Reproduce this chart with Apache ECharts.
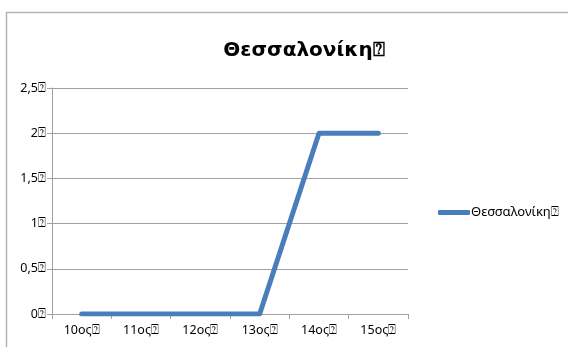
<!DOCTYPE html>
<html><head><meta charset="utf-8">
<script src="https://cdn.jsdelivr.net/npm/echarts@6/dist/echarts.min.js"></script>
<style>html,body{margin:0;padding:0;background:#fff}#c{width:568px;height:347px}</style>
</head><body><div id="c"></div>
<script>
const TITLE = 'Θεσσαλονίκη\u2370';
const SERIES_NAME = 'Θεσσαλονίκη\u2370';
const categories = ['10ος\u2370','11ος\u2370','12ος\u2370','13ος\u2370','14ος\u2370','15ος\u2370'];
const values = [0, 0, 0, 0, 2, 2];
const yTicks = ['0\u2370','0,5\u2370','1\u2370','1,5\u2370','2\u2370','2,5\u2370'];

const FONT = '"Noto Sans", "DejaVu Sans", sans-serif';
const chart = echarts.init(document.getElementById('c'), null, {renderer:'canvas'});
chart.setOption({
  animation:false,
  backgroundColor:'#fff',
  graphic:[{type:'rect', shape:{x:6.5,y:12.5,width:700,height:500}, style:{fill:'none', stroke:'#b4b4b4', lineWidth:1.5}, silent:true, z:-1}],
  title:{text:TITLE, left:299, top:36, textAlign:'center',
    textStyle:{fontFamily:'"DejaVu Sans", sans-serif', fontSize:20, fontWeight:'bold', color:'#000'}},
  legend:{show:true, left:433, top:201, icon:'roundRect', itemWidth:32, itemHeight:5, itemGap:0,
    textStyle:{fontFamily:FONT, fontSize:13, color:'#000', padding:[0,0,0,-4]},
    data:[SERIES_NAME]},
  grid:{left:52, top:88, right:160, bottom:33, containLabel:false},
  xAxis:{type:'category', data:categories, boundaryGap:true,
    axisLine:{lineStyle:{color:'#a0a0a0', width:1}},
    axisTick:{show:true, length:5, lineStyle:{color:'#a0a0a0'}},
    axisLabel:{fontFamily:FONT, fontSize:12.5, color:'#000', margin:10},
    splitLine:{show:false}},
  yAxis:{type:'value', min:0, max:2.5, interval:0.5,
    axisLine:{show:true, lineStyle:{color:'#a0a0a0', width:1}},
    axisTick:{show:true, length:5, lineStyle:{color:'#a0a0a0'}},
    axisLabel:{fontFamily:FONT, fontSize:12.5, color:'#000', margin:6,
      formatter:function(v){ return yTicks[Math.round(v/0.5)]; }},
    splitLine:{show:true, lineStyle:{color:'#a0a0a0', width:1}}},
  series:[{name:SERIES_NAME, type:'line', data:values, symbol:'none',
    lineStyle:{color:'#4a7ebb', width:5, cap:'round', join:'round'},
    itemStyle:{color:'#4a7ebb'}}]
});
</script></body></html>
